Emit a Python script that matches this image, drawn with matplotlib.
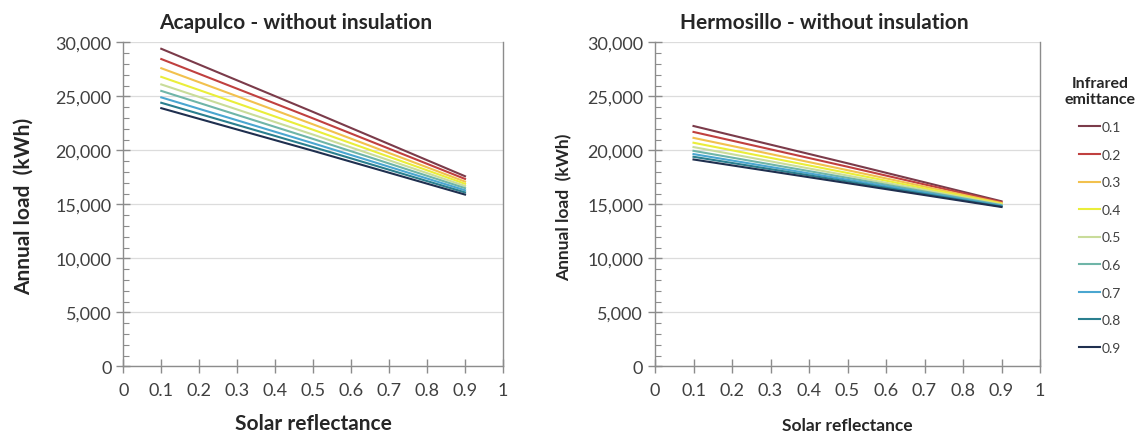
import matplotlib
matplotlib.use("Agg")
import matplotlib.pyplot as plt
from matplotlib.ticker import MultipleLocator, FuncFormatter

plt.rcParams['font.family'] = ['Lato', 'DejaVu Sans']

# Data
reflectance = [0.1, 0.5, 0.9]
emittance = ['0.1', '0.2', '0.3', '0.4', '0.5', '0.6', '0.7', '0.8', '0.9']

acapulco = {
    '0.1': [29400, 23550, 17600],
    '0.2': [28450, 22950, 17350],
    '0.3': [27600, 22400, 17100],
    '0.4': [26800, 21900, 16900],
    '0.5': [26100, 21450, 16700],
    '0.6': [25500, 21050, 16500],
    '0.7': [24900, 20650, 16300],
    '0.8': [24400, 20300, 16100],
    '0.9': [23900, 19950, 15900],
}
hermosillo = {
    '0.1': [22250, 18800, 15280],
    '0.2': [21700, 18480, 15200],
    '0.3': [21150, 18160, 15120],
    '0.4': [20700, 17900, 15050],
    '0.5': [20300, 17660, 14980],
    '0.6': [19950, 17450, 14920],
    '0.7': [19650, 17270, 14860],
    '0.8': [19400, 17110, 14800],
    '0.9': [19150, 16960, 14750],
}
colors = ['#7b3b4a', '#c0403f', '#f2c14e', '#eaee3a', '#c9dc9a',
          '#6fb5a8', '#4aa6d0', '#2a7f8f', '#1f2f4f']

fig = plt.figure(figsize=(11.48, 4.39), dpi=100)
W, H = 1148, 439
ax1 = fig.add_axes([123.3/W, 1-367.3/H, 379.7/W, 324/H])
ax2 = fig.add_axes([655/W, 1-367.3/H, 385/W, 324/H])

tick_col = '#404040'
spine_col = '#8c8c8c'

def style(ax, title, tx, lab_size, ylab_x, xlab_y):
    ax.set_xlim(0, 1)
    ax.set_ylim(0, 30000)
    ax.xaxis.set_major_locator(MultipleLocator(0.1))
    ax.yaxis.set_major_locator(MultipleLocator(5000))
    ax.yaxis.set_minor_locator(MultipleLocator(1000))
    ax.xaxis.set_major_formatter(FuncFormatter(lambda v, p: f"{v:g}" if abs(v) > 1e-9 else "0"))
    ax.yaxis.set_major_formatter(FuncFormatter(lambda v, p: f"{int(v):,}"))
    ax.grid(axis='y', which='major', color='#dcdcdc', lw=0.9)
    ax.set_axisbelow(True)
    ax.spines['top'].set_visible(False)
    for s in ['left', 'bottom', 'right']:
        ax.spines[s].set_color(spine_col)
        ax.spines[s].set_linewidth(1.0)
    ax.tick_params(axis='both', which='major', direction='inout', length=10,
                   color=spine_col, labelsize=13, labelcolor=tick_col, width=1.0)
    ax.tick_params(axis='y', which='minor', direction='in', length=4,
                   color=spine_col, width=0.8)
    ax.tick_params(axis='x', which='major', pad=6)
    ax.set_xlabel('Solar reflectance', fontsize=lab_size, fontweight='bold', color='#262626')
    ax.xaxis.set_label_coords(0.5, xlab_y)
    ax.set_ylabel('Annual load  (kWh)', fontsize=lab_size, fontweight='bold', color='#262626')
    ax.yaxis.set_label_coords(ylab_x, 0.495)
    ax.text(tx, 1.063, title, transform=ax.transAxes, ha='center', va='center',
            fontsize=15, fontweight='bold', color='#262626')

for i, e in enumerate(emittance):
    ax1.plot(reflectance, acapulco[e], color=colors[i], lw=1.5, label=e)
    ax2.plot(reflectance, hermosillo[e], color=colors[i], lw=1.5, label=e)

style(ax1, 'Acapulco - without insulation', 0.455, 15, -0.235, -0.145)
style(ax2, 'Hermosillo - without insulation', 0.44, 12.5, -0.215, -0.155)

handles, labels = ax2.get_legend_handles_labels()
leg = fig.legend(handles, labels, loc='upper left', bbox_to_anchor=(1052/W, 1-64/H),
                 frameon=False, fontsize=10, handlelength=1.5, handletextpad=0.1,
                 labelspacing=1.12, title='Infrared\nemittance',
                 title_fontproperties={'weight': 'bold', 'size': 11.5})
for t in leg.get_texts():
    t.set_color(tick_col)
leg.get_title().set_color('#262626')
leg.get_title().set_multialignment('center')

fig.savefig('out.png', dpi=100)
